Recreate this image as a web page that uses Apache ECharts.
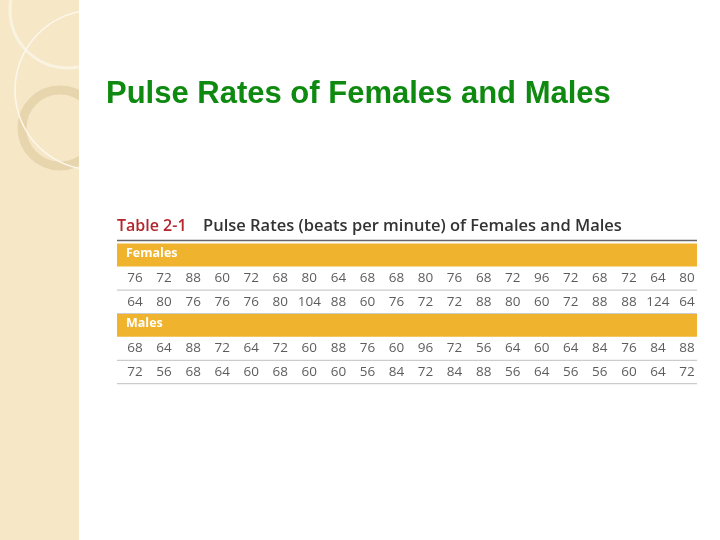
<!DOCTYPE html>
<html><head><meta charset="utf-8">
<script src="https://cdn.jsdelivr.net/npm/echarts@6/dist/echarts.min.js"></script>
<style>html,body{margin:0;padding:0;background:#fff}#c{width:720px;height:540px}</style>
</head><body><div id="c"></div>
<script>
const rowLabels = ['Females', 'F1', 'F2', 'Males', 'M1', 'M2'];
const females1 = [76,72,88,60,72,68,80,64,68,68,80,76,68,72,96,72,68,72,64,80];
const females2 = [64,80,76,76,76,80,104,88,60,76,72,72,88,80,60,72,88,88,124,64];
const males1 = [68,64,88,72,64,72,60,88,76,60,96,72,56,64,60,64,84,76,84,88];
const males2 = [72,56,68,64,60,68,60,60,56,84,72,84,88,56,64,56,56,60,64,72];
const cols = females1.map((_, i) => String(i));

const rows = [[1, females1], [2, females2], [4, males1], [5, males2]];
const pts = [];
rows.forEach(([r, arr]) => arr.forEach((v, i) => pts.push([String(i), rowLabels[r], v])));

const chart = echarts.init(document.getElementById('c'));
chart.setOption({
  animation: false,
  grid: {left: 120.5, right: 18.5, top: 243.3, bottom: 156.3},
  xAxis: {type: 'category', data: cols, show: false},
  yAxis: {type: 'category', data: rowLabels, inverse: true, show: false},
  series: [
    {type: 'scatter', symbolSize: 0, data: pts, z: 10,
     label: {show: true, position: 'inside', formatter: p => p.value[2],
             fontFamily: 'Open Sans', fontSize: 13.5, color: '#333'}}
  ]
});

const gx = 117, gw = 580;
const py = r => chart.convertToPixel({yAxisIndex: 0}, rowLabels[r]);
const g = [
  {type: 'rect', shape: {x: 0, y: 0, width: 79, height: 540}, style: {fill: '#f6e7c6'}, z: 0},
  {type: 'circle', shape: {cx: 68, cy: 10, r: 58}, style: {fill: 'none', stroke: '#fbf3e2', lineWidth: 3}, z: 1},
  {type: 'circle', shape: {cx: 60, cy: 128, r: 38}, style: {fill: 'none', stroke: '#e6d5ad', lineWidth: 9}, z: 1},
  {type: 'circle', shape: {cx: 95, cy: 90, r: 80}, style: {fill: 'none', stroke: '#fdf8ee', lineWidth: 1.5}, z: 1},
  {type: 'rect', shape: {x: 79, y: 0, width: 641, height: 540}, style: {fill: '#fff'}, z: 2},
  {type: 'text', x: 106, y: 79, z: 3, style: {text: 'Pulse Rates of Females and Males', fill: '#0f8a10',
    font: 'bold 31px "Liberation Sans", Arial'}},
  {type: 'text', x: 117, y: 218, z: 3, style: {text: 'Table 2-1', fill: '#b3262d', font: '600 16px "Open Sans"'}},
  {type: 'text', x: 203, y: 218, z: 3, style: {text: 'Pulse Rates (beats per minute) of Females and Males', fill: '#333', font: '600 16.5px "Open Sans"'}},
  {type: 'line', z: 3, shape: {x1: gx, y1: 240.5, x2: gx + gw, y2: 240.5}, style: {stroke: '#666', lineWidth: 1.5}}
];
[0, 3].forEach(r => {
  const y = py(r);
  g.push({type: 'rect', z: 3, shape: {x: gx, y: y - 11.5, width: gw, height: 23}, style: {fill: '#efb32e'}});
  g.push({type: 'text', z: 4, x: 126, y: y - 8, style: {text: rowLabels[r], fill: '#fff', font: 'bold 12.5px "Open Sans"'}});
});
[1, 2, 4, 5].forEach(r => {
  const y = py(r) + 11.7;
  g.push({type: 'line', z: 3, shape: {x1: gx, y1: y, x2: gx + gw, y2: y}, style: {stroke: '#ccc', lineWidth: 1.2}});
});
chart.setOption({graphic: g});
</script></body></html>
